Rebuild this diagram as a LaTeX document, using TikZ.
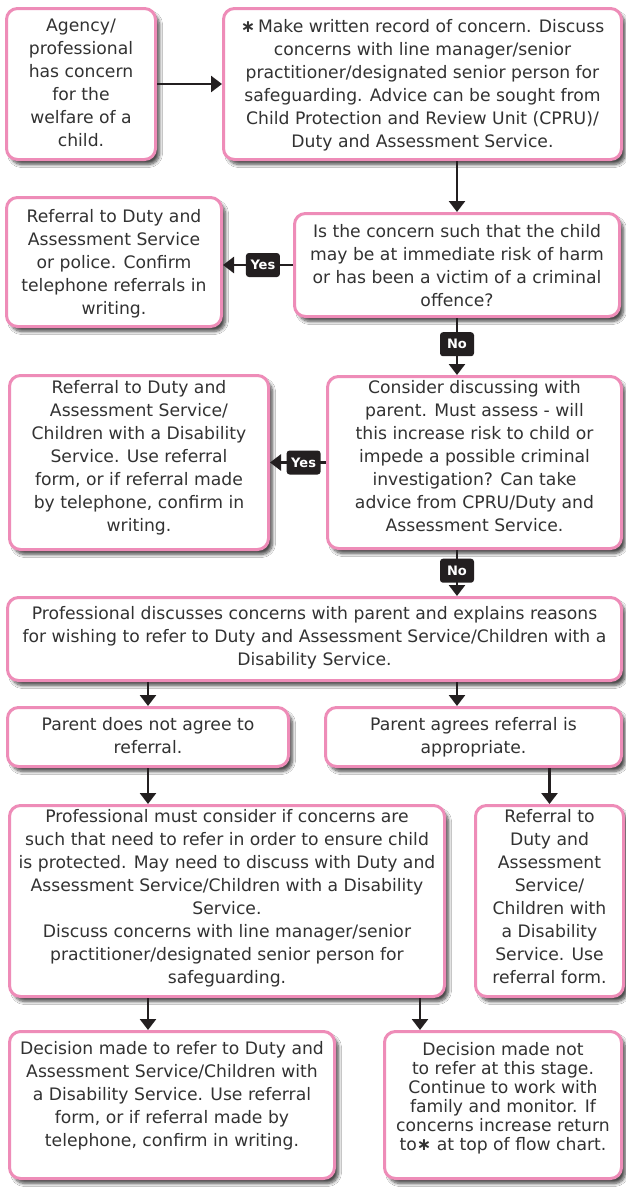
\documentclass[tikz,border=0pt]{standalone}
\usepackage{fontspec}
\setmainfont{DejaVu Sans}
\usetikzlibrary{arrows.meta,shadows.blur,calc}
\definecolor{pinkb}{RGB}{238,140,184}
\definecolor{txtc}{RGB}{50,50,50}
\definecolor{arrc}{RGB}{35,31,32}
\tikzset{
  box/.style={draw=pinkb, line width=3pt, rounded corners=11pt, fill=white, anchor=north west, inner sep=0pt,
    blur shadow={shadow xshift=4pt, shadow yshift=-5pt, shadow blur radius=3pt, shadow blur steps=8, shadow opacity=70}},
  txt/.style={align=center, inner sep=0pt, anchor=north, text=txtc, font=\fontsize{17.2}{23}\selectfont,
    execute at begin node={\rule{0pt}{13pt}}},
  tighttxt/.style={txt, font=\fontsize{17.2}{19}\selectfont},
  arr/.style={draw=arrc, line width=2.6pt, -{Triangle[width=16pt,length=11pt]}},
  lab/.style={fill=arrc, text=white, font=\bfseries\fontsize{13}{13}\selectfont, rounded corners=3pt,
    minimum width=34pt, minimum height=24pt, inner sep=0pt},
}
\newcommand{\myast}{{\bfseries ∗}}
\begin{document}
\begin{tikzpicture}[x=1pt,y=-1pt]
\useasboundingbox (0,0) rectangle (626,1187);
\fill[white] (0,0) rectangle (626,1187);

% boxes
\node[box, minimum width=149pt, minimum height=151pt] (b1) at (5,7) {};
\node[box, minimum width=398pt, minimum height=151pt] (b2) at (222,7) {};
\node[box, minimum width=325pt, minimum height=103pt] (b3) at (293,212) {};
\node[box, minimum width=215pt, minimum height=129pt] (b4) at (5,196) {};
\node[box, minimum width=294pt, minimum height=172pt] (b5) at (326,375) {};
\node[box, minimum width=259pt, minimum height=174pt] (b6) at (8,374) {};
\node[box, minimum width=614pt, minimum height=83pt] (b7) at (6,596) {};
\node[box, minimum width=281pt, minimum height=59pt] (b8) at (6,706) {};
\node[box, minimum width=296pt, minimum height=59pt] (b9) at (324,706) {};
\node[box, minimum width=435pt, minimum height=191pt] (b10) at (8,804) {};
\node[box, minimum width=148pt, minimum height=191pt] (b11) at (474,804) {};
\node[box, minimum width=325pt, minimum height=147pt] (b12) at (8,1030) {};
\node[box, minimum width=237pt, minimum height=147pt] (b13) at (383,1030) {};

% texts
\node[txt] (t1) at ([yshift=-12pt]b1.north) {Agency/\\professional\\has concern\\for the\\welfare of a\\child.};
\node[txt] (t2) at ([yshift=-12pt]b2.north) {\myast\,Make written record of concern. Discuss\\concerns with line manager/senior\\practitioner/designated senior person for\\safeguarding. Advice can be sought from\\Child Protection and Review Unit (CPRU)/\\Duty and Assessment Service.};
\node[txt] (t3) at ([yshift=-12pt]b3.north) {Is the concern such that the child\\may be at immediate risk of harm\\or has been a victim of a criminal\\offence?};
\node[txt] (t4) at ([yshift=-13pt]b4.north) {Referral to Duty and\\Assessment Service\\or police. Confirm\\telephone referrals in\\writing.};
\node[txt] (t5) at ([yshift=-5pt]b5.north) {Consider discussing with\\parent. Must assess - will\\this increase risk to child or\\impede a possible criminal\\investigation? Can take\\advice from CPRU/Duty and\\Assessment Service.};
\node[txt] (t6) at ([yshift=-6pt]b6.north) {Referral to Duty and\\Assessment Service/\\Children with a Disability\\Service. Use referral\\form, or if referral made\\by telephone, confirm in\\writing.};
\node[txt] (t7) at ([yshift=-10pt]b7.north) {Professional discusses concerns with parent and explains reasons\\for wishing to refer to Duty and Assessment Service/Children with a\\Disability Service.};
\node[txt] (t8) at ([yshift=-11pt]b8.north) {Parent does not agree to\\referral.};
\node[txt] (t9) at ([yshift=-11pt]b9.north) {Parent agrees referral is\\appropriate.};
\node[txt] (t10) at ([yshift=-5pt]b10.north) {Professional must consider if concerns are\\such that need to refer in order to ensure child\\is protected. May need to discuss with Duty and\\Assessment Service/Children with a Disability\\Service.\\Discuss concerns with line manager/senior\\practitioner/designated senior person for\\safeguarding.};
\node[txt] (t11) at ([yshift=-5pt]b11.north) {Referral to\\Duty and\\Assessment\\Service/\\Children with\\a Disability\\Service. Use\\referral form.};
\node[txt] (t12) at ([yshift=-11pt]b12.north) {Decision made to refer to Duty and\\Assessment Service/Children with\\a Disability Service. Use referral\\form, or if referral made by\\telephone, confirm in writing.};
\node[tighttxt] (t13) at ([yshift=-12pt]b13.north) {Decision made not\\to refer at this stage.\\Continue to work with\\family and monitor. If\\concerns increase return\\to\myast\ at top of flow chart.};

% connectors
\draw[arr] (b1.east) -- (b2.west);
\draw[arr] (b3.north |- b2.south) -- (b3.north);
\draw[arr] (b3.west) -- node[lab, pos=0.43] (y1) {Yes} (b3.west -| b4.east);
\draw[arr] (b3.south) -- node[lab, pos=0.46] (n1) {No} (b3.south |- b5.north);
\draw[arr] (b5.west) -- node[lab, pos=0.4] (y2) {Yes} (b5.west -| b6.east);
\draw[arr] (b3.south |- b5.south) -- node[lab, pos=0.45] (n2) {No} (b3.south |- b7.north);
\draw[arr] (b8.north |- b7.south) -- (b8.north);
\draw[arr] (b3.south |- b7.south) -- (b3.south |- b9.north);
\draw[arr] (b8.south) -- (b8.south |- b10.north);
\draw[arr] (b11.north |- b9.south) -- (b11.north);
\draw[arr] (b8.south |- b10.south) -- (b8.south |- b12.north);
\coordinate (c1) at ([xshift=-26pt]b10.south east);
\draw[arr] (c1) -- (c1 |- b13.north);
\end{tikzpicture}
\end{document}
